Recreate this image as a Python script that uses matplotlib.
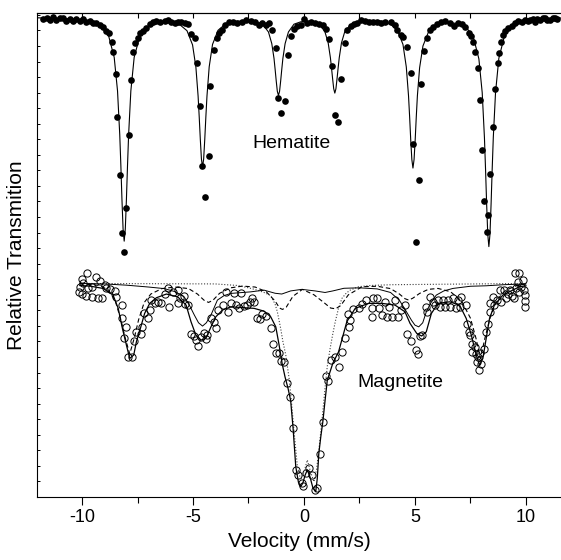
import matplotlib
matplotlib.use('Agg')
import matplotlib.pyplot as plt

plt.rcParams['font.family'] = ['Liberation Sans', 'DejaVu Sans']
plt.rcParams['axes.unicode_minus'] = False

# Hematite spectrum: measured points (velocity mm/s, relative transmission a.u.)
hem_pts = [(-11.75, 30.75), (-11.6, 30.82), (-11.45, 30.7), (-11.3, 30.85), (-11.15, 30.65),
           (-11.0, 30.78), (-10.85, 30.82), (-10.7, 30.62), (-10.55, 30.72), (-10.4, 30.58),
           (-10.25, 30.76), (-10.1, 30.62), (-9.95, 30.72), (-9.8, 30.56), (-9.65, 30.62),
           (-9.5, 30.5), (-9.35, 30.47), (-9.2, 30.35), (-9.05, 30.25), (-8.93, 29.93),
           (-8.78, 29.82), (-8.67, 29.24), (-8.6, 28.6), (-8.49, 27.18), (-8.42, 24.42),
           (-8.3, 20.71), (-8.19, 16.95), (-8.1, 15.75), (-8.0, 18.57), (-7.89, 23.25),
           (-7.78, 26.78), (-7.7, 28.64), (-7.6, 29.22), (-7.47, 29.54), (-7.37, 29.82),
           (-7.25, 29.93), (-7.1, 30.18), (-6.95, 30.42), (-6.8, 30.53), (-6.65, 30.61),
           (-6.47, 30.57), (-6.28, 30.61), (-6.13, 30.68), (-5.98, 30.57), (-5.83, 30.46),
           (-5.68, 30.57), (-5.53, 30.51), (-5.35, 30.46), (-5.23, 30.4), (-5.11, 29.76),
           (-4.93, 29.5), (-4.82, 27.89), (-4.7, 25.17), (-4.58, 21.25), (-4.45, 19.26),
           (-4.3, 21.93), (-4.22, 26.43), (-4.04, 28.75), (-3.94, 29.5), (-3.82, 29.82),
           (-3.7, 30.03), (-3.55, 30.35), (-3.37, 30.53), (-3.19, 30.53), (-3.0, 30.46),
           (-2.8, 30.57), (-2.59, 30.68), (-2.4, 30.61), (-2.2, 30.53), (-2.02, 30.35),
           (-1.87, 30.46), (-1.72, 30.35), (-1.57, 30.46), (-1.42, 30.03), (-1.27, 28.9),
           (-1.15, 25.64), (-1.02, 24.68), (-0.87, 25.43), (-0.72, 28.43), (-0.6, 29.67),
           (-0.45, 30.1), (-0.3, 30.31), (-0.15, 30.35), (0.0, 30.74), (0.15, 30.46),
           (0.3, 30.57), (0.49, 30.46), (0.67, 30.4), (0.85, 30.35), (1.0, 30.1),
           (1.12, 29.43), (1.27, 27.68), (1.39, 24.57), (1.53, 24.1), (1.68, 26.86),
           (1.83, 29.18), (1.95, 30.03), (2.1, 30.31), (2.25, 30.4), (2.4, 30.46),
           (2.55, 30.68), (2.74, 30.61), (2.92, 30.57), (3.11, 30.57), (3.3, 30.53),
           (3.49, 30.46), (3.67, 30.57), (3.9, 30.57), (4.08, 30.35), (4.2, 30.03),
           (4.35, 29.71), (4.46, 29.6), (4.64, 28.92), (4.8, 27.25), (4.91, 22.69),
           (5.05, 16.37), (5.17, 20.39), (5.29, 26.56), (5.42, 28.68), (5.54, 29.5),
           (5.66, 30.03), (5.81, 30.25), (5.99, 30.4), (6.17, 30.53), (6.37, 30.61),
           (6.56, 30.46), (6.74, 30.31), (6.92, 30.46), (7.11, 30.4), (7.27, 30.25),
           (7.42, 29.82), (7.52, 29.67), (7.61, 29.28), (7.72, 28.64), (7.83, 27.57),
           (7.94, 25.5), (8.01, 22.32), (8.13, 19.0), (8.24, 17.03), (8.31, 18.1),
           (8.39, 20.76), (8.51, 23.76), (8.62, 26.24), (8.73, 27.89), (8.79, 28.53),
           (8.87, 29.28), (8.96, 29.71), (9.06, 29.93), (9.21, 30.14), (9.36, 30.31),
           (9.51, 30.46), (9.66, 30.61), (9.81, 30.53), (9.96, 30.68), (10.08, 30.6),
           (10.19, 30.68), (10.3, 30.75), (10.41, 30.57), (10.52, 30.72), (10.64, 30.68),
           (10.75, 30.8), (10.86, 30.78), (10.97, 30.7), (11.09, 30.68), (11.2, 30.82),
           (11.31, 30.78), (11.42, 30.72)]

# Hematite fitted curve
hem_fit = [(-12.0, 30.81), (-10.6, 30.75), (-9.6, 30.57), (-9.1, 30.24), (-8.8, 29.64),
           (-8.55, 28.27), (-8.4, 26.11), (-8.3, 23.3), (-8.25, 21.32), (-8.2, 19.11),
           (-8.15, 17.23), (-8.1, 16.45), (-8.05, 17.23), (-8.0, 19.11), (-7.95, 21.32),
           (-7.9, 23.3), (-7.8, 26.11), (-7.65, 28.27), (-7.4, 29.62), (-7.1, 30.19),
           (-6.6, 30.47), (-6.3, 30.52), (-6.07, 30.52), (-5.57, 30.34), (-5.27, 29.98),
           (-5.02, 29.07), (-4.87, 27.65), (-4.77, 25.78), (-4.72, 24.45), (-4.67, 22.99),
           (-4.62, 21.73), (-4.57, 21.22), (-4.52, 21.73), (-4.47, 22.99), (-4.42, 24.45),
           (-4.37, 25.78), (-4.27, 27.66), (-4.12, 29.1), (-3.87, 30.01), (-3.57, 30.37),
           (-3.07, 30.58), (-2.5, 30.63), (-2.15, 30.55), (-1.85, 30.37), (-1.6, 29.9),
           (-1.45, 29.15), (-1.35, 28.2), (-1.3, 27.5), (-1.25, 26.75), (-1.2, 26.08),
           (-1.15, 25.82), (-1.1, 26.08), (-1.05, 26.75), (-1.0, 27.5), (-0.95, 28.2),
           (-0.85, 29.15), (-0.7, 29.9), (-0.45, 30.4), (-0.15, 30.55), (0.12, 30.59),
           (0.39, 30.56), (0.69, 30.39), (0.94, 29.93), (1.09, 29.2), (1.19, 28.25),
           (1.24, 27.6), (1.29, 26.9), (1.34, 26.25), (1.39, 25.97), (1.44, 26.25),
           (1.49, 26.9), (1.54, 27.6), (1.59, 28.25), (1.69, 29.2), (1.84, 29.93),
           (2.09, 30.35), (2.39, 30.57), (2.9, 30.65), (3.41, 30.62), (3.91, 30.38),
           (4.21, 30.0), (4.46, 29.1), (4.61, 27.65), (4.71, 25.8), (4.76, 24.45),
           (4.81, 22.95), (4.86, 21.7), (4.91, 21.15), (4.96, 21.7), (5.01, 22.95),
           (5.06, 24.45), (5.11, 25.8), (5.21, 27.6), (5.36, 29.0), (5.61, 29.9),
           (5.91, 30.33), (6.41, 30.5), (6.83, 30.46), (7.33, 30.16), (7.63, 29.58),
           (7.88, 28.17), (8.03, 26.0), (8.13, 23.12), (8.18, 21.09), (8.23, 18.83),
           (8.28, 16.9), (8.33, 16.1), (8.38, 16.9), (8.43, 18.83), (8.48, 21.09),
           (8.53, 23.12), (8.63, 26.0), (8.78, 28.21), (9.03, 29.63), (9.33, 30.23),
           (9.83, 30.57), (10.33, 30.7), (11.6, 30.8)]

# Magnetite spectrum: measured points
mag_pts = [(-10.13, 13.19), (-10.1, 13.52), (-10.02, 14.01), (-10.02, 13.03), (-9.95, 13.73),
           (-9.83, 12.94), (-9.77, 14.41), (-9.74, 13.41), (-9.57, 13.52), (-9.53, 12.87),
           (-9.38, 14.16), (-9.27, 12.81), (-9.17, 13.88), (-9.08, 12.81), (-8.97, 13.62),
           (-8.9, 13.41), (-8.72, 13.37), (-8.53, 13.24), (-8.45, 12.87), (-8.22, 12.34),
           (-8.18, 11.48), (-8.12, 10.2), (-8.0, 10.94), (-7.92, 9.02), (-7.73, 9.02),
           (-7.65, 10.03), (-7.55, 10.62), (-7.33, 10.46), (-7.28, 10.94), (-7.22, 11.8),
           (-7.03, 11.48), (-6.95, 12.02), (-6.88, 12.66), (-6.73, 12.45), (-6.58, 12.55),
           (-6.43, 12.45), (-6.28, 13.03), (-6.14, 13.41), (-6.07, 12.23), (-5.92, 13.19),
           (-5.69, 13.3), (-5.69, 12.45), (-5.57, 12.77), (-5.42, 12.94), (-5.36, 12.38),
           (-5.21, 12.34), (-5.09, 10.48), (-4.97, 10.37), (-4.87, 10.09), (-4.76, 9.72),
           (-4.64, 10.3), (-4.49, 10.52), (-4.42, 10.13), (-4.35, 10.41), (-4.19, 11.48),
           (-4.04, 11.27), (-3.97, 10.84), (-3.87, 12.02), (-3.67, 12.34), (-3.52, 13.16),
           (-3.42, 11.87), (-3.29, 12.45), (-3.15, 13.09), (-3.07, 12.34), (-2.92, 12.13),
           (-2.82, 13.09), (-2.7, 12.29), (-2.55, 12.34), (-2.43, 12.51), (-2.32, 12.81),
           (-2.25, 12.55), (-2.1, 11.52), (-1.98, 11.44), (-1.87, 11.74), (-1.72, 11.65),
           (-1.5, 10.88), (-1.38, 9.83), (-1.27, 9.24), (-1.12, 9.24), (-1.05, 8.74),
           (-0.9, 8.7), (-0.75, 7.31), (-0.64, 6.45), (-0.49, 4.41), (-0.37, 1.74),
           (-0.27, 1.41), (-0.1, 0.88), (-0.03, 0.71), (0.1, 1.52), (0.22, 1.88),
           (0.37, 1.41), (0.48, 0.45), (0.6, 0.56), (0.73, 2.74), (0.85, 4.8),
           (0.98, 7.78), (1.09, 7.46), (1.23, 8.8), (1.41, 9.02), (1.56, 8.37),
           (1.71, 9.34), (1.83, 10.24), (1.98, 11.74), (2.01, 10.94), (2.08, 11.38),
           (2.23, 12.08), (2.46, 12.13), (2.61, 12.38), (2.79, 12.66), (3.06, 12.13),
           (3.06, 11.59), (3.13, 12.77), (3.28, 12.77), (3.38, 12.17), (3.51, 11.7),
           (3.63, 12.51), (3.73, 11.59), (3.83, 12.23), (3.96, 11.59), (4.08, 12.66),
           (4.22, 11.59), (4.37, 12.02), (4.53, 12.34), (4.63, 10.46), (4.82, 10.03),
           (5.03, 9.45), (5.15, 9.17), (5.23, 10.37), (5.33, 10.41), (5.48, 12.23),
           (5.54, 11.91), (5.66, 12.87), (5.81, 12.55), (5.89, 12.34), (6.04, 12.66),
           (6.11, 12.23), (6.26, 12.66), (6.34, 12.23), (6.49, 12.66), (6.59, 12.23),
           (6.71, 12.77), (6.83, 12.17), (6.94, 12.66), (7.04, 12.23), (7.09, 12.87),
           (7.28, 12.34), (7.34, 11.1), (7.43, 10.58), (7.49, 10.41), (7.58, 9.81),
           (7.58, 9.34), (7.69, 9.66), (7.73, 9.17), (7.83, 9.02), (7.79, 8.7),
           (7.99, 8.53), (7.88, 8.16), (7.94, 9.24), (8.13, 9.51), (8.21, 10.58),
           (8.28, 11.1), (8.36, 11.91), (8.39, 12.45), (8.51, 12.87), (8.58, 12.34),
           (8.69, 12.66), (8.81, 13.3), (8.88, 12.55), (9.03, 13.3), (9.08, 12.81),
           (9.18, 13.03), (9.29, 13.3), (9.38, 12.94), (9.48, 12.77), (9.53, 14.38),
           (9.56, 13.41), (9.63, 13.84), (9.68, 13.19), (9.71, 14.38), (9.78, 13.52),
           (9.86, 13.95), (9.93, 13.3), (9.98, 12.98), (9.98, 12.6), (9.98, 12.23)]

# Magnetite total fit
mag_fit = [(-10.1, 13.6), (-9.6, 13.55), (-9.05, 13.41), (-8.6, 12.98), (-8.37, 12.13),
           (-8.18, 10.84), (-8.0, 9.77), (-7.85, 8.91), (-7.67, 9.13), (-7.55, 9.98),
           (-7.37, 10.84), (-7.18, 11.8), (-6.95, 12.45), (-6.65, 12.81), (-6.2, 13.05),
           (-5.69, 12.87), (-5.31, 12.34), (-5.09, 11.27), (-4.87, 10.41), (-4.64, 10.09),
           (-4.42, 10.2), (-4.19, 10.94), (-3.97, 11.59), (-3.67, 12.02), (-3.29, 12.23),
           (-2.7, 12.17), (-2.25, 12.13), (-1.8, 11.95), (-1.5, 11.59), (-1.27, 10.94),
           (-1.12, 9.77), (-0.98, 8.55), (-0.85, 7.7), (-0.72, 7.0), (-0.6, 6.2),
           (-0.49, 4.41), (-0.37, 1.95), (-0.25, 0.95), (-0.15, 0.66), (-0.05, 0.9),
           (0.05, 1.4), (0.15, 1.74), (0.27, 1.3), (0.4, 0.6), (0.53, 0.34), (0.6, 1.2),
           (0.67, 2.81), (0.76, 3.9), (0.85, 4.84), (0.95, 6.2), (1.05, 7.5), (1.3, 8.6),
           (1.56, 9.34), (1.93, 11.27), (2.31, 12.13), (2.91, 12.45), (3.51, 12.45),
           (4.1, 12.34), (4.55, 11.91), (4.78, 11.16), (5.08, 10.52), (5.3, 10.35),
           (5.51, 10.62), (5.74, 11.8), (6.04, 12.45), (6.56, 12.55), (7.01, 12.34),
           (7.31, 11.48), (7.54, 10.41), (7.76, 9.13), (7.91, 8.48), (8.06, 8.91),
           (8.21, 10.2), (8.36, 11.48), (8.58, 12.34), (8.96, 12.98), (9.71, 13.52),
           (10.0, 13.58)]

# Magnetite subspectra
sub_solid = [(-10.1, 13.73), (-9.0, 13.7), (-8.0, 13.62), (-7.0, 13.5), (-6.3, 13.4),
             (-5.8, 13.2), (-5.4, 12.87), (-5.15, 12.3), (-4.94, 11.7), (-4.75, 11.2),
             (-4.57, 10.99), (-4.4, 11.2), (-4.19, 11.7), (-3.9, 12.66), (-3.6, 12.95),
             (-3.29, 13.09), (-2.4, 13.19), (-1.8, 13.3), (-1.3, 13.1), (-1.0, 13.05),
             (-0.6, 13.25), (-0.1, 13.35), (0.5, 13.25), (0.95, 13.15), (1.3, 13.25),
             (1.8, 13.42), (2.5, 13.45), (3.3, 13.38), (3.9, 13.15), (4.3, 12.65),
             (4.6, 11.95), (4.85, 11.35), (5.0, 11.05), (5.17, 10.94), (5.35, 11.2),
             (5.51, 11.9), (5.7, 12.45), (5.96, 12.98), (6.3, 13.25), (6.71, 13.41),
             (7.5, 13.55), (8.21, 13.58), (9.0, 13.65), (10.0, 13.7)]

sub_dashed = [(-10.1, 13.72), (-9.2, 13.6), (-8.8, 13.3), (-8.5, 12.6), (-8.25, 11.4),
              (-8.05, 10.2), (-7.85, 9.2), (-7.65, 10.2), (-7.45, 11.4), (-7.2, 12.5),
              (-6.9, 13.05), (-6.4, 13.4), (-5.8, 13.5), (-5.2, 13.4), (-4.8, 13.05),
              (-4.5, 12.65), (-4.3, 12.51), (-4.1, 12.65), (-3.8, 13.1), (-3.3, 13.45),
              (-2.77, 13.56), (-2.2, 13.5), (-1.7, 13.2), (-1.3, 12.6), (-1.1, 12.15),
              (-0.97, 12.06), (-0.8, 12.2), (-0.5, 12.9), (-0.07, 13.35), (0.45, 13.0),
              (0.9, 12.5), (1.2, 12.15), (1.42, 12.1), (1.65, 12.3), (2.0, 13.0),
              (2.62, 13.52), (3.3, 13.55), (3.9, 13.4), (4.3, 13.05), (4.55, 12.75),
              (4.72, 12.66), (4.9, 12.78), (5.21, 13.09), (5.6, 13.35), (6.04, 13.41),
              (6.6, 13.2), (7.1, 12.6), (7.5, 11.5), (7.75, 10.2), (7.95, 8.9),
              (8.15, 10.2), (8.4, 11.6), (8.7, 12.7), (9.1, 13.3), (9.6, 13.6), (10.0, 13.7)]

sub_dotted = [(-10.1, 13.73), (-4.0, 13.7), (-3.0, 13.6), (-2.5, 13.45), (-2.1, 13.3),
              (-1.8, 13.15), (-1.5, 12.95), (-1.3, 12.4), (-1.2, 11.91), (-1.05, 10.84),
              (-0.95, 10.0), (-0.82, 9.13), (-0.67, 7.63), (-0.55, 5.9), (-0.42, 3.8),
              (-0.3, 2.0), (-0.15, 1.1), (0.0, 1.6), (0.15, 2.38), (0.3, 1.6), (0.45, 0.98),
              (0.57, 1.8), (0.67, 3.02), (0.8, 4.74), (0.94, 6.88), (1.05, 8.4),
              (1.18, 9.56), (1.3, 10.5), (1.41, 11.27), (1.55, 12.1), (1.71, 12.77),
              (1.9, 13.1), (2.08, 13.3), (2.46, 13.52), (3.0, 13.6), (3.96, 13.65),
              (10.0, 13.73)]

x_major = [-10, -5, 0, 5, 10]
x_minor = [-7.5, -2.5, 2.5, 7.5]


def split(pts):
    return [p[0] for p in pts], [p[1] for p in pts]


fig = plt.figure(figsize=(5.61, 5.60), dpi=100)
ax = fig.add_axes([37.4 / 561, 63 / 560, (561 - 37.4) / 561, 483.7 / 560])

# hematite
hv, ht = split(hem_pts)
ax.plot(hv, ht, 'o', color='black', markersize=4.8, markeredgewidth=0)
fv, ft = split(hem_fit)
ax.plot(fv, ft, '-', color='black', lw=0.8)

# magnetite
mv, mt = split(mag_pts)
ax.plot(mv, mt, 'o', markerfacecolor='none', markeredgecolor='black',
        markersize=5.2, markeredgewidth=0.7)
sv, st = split(sub_dotted)
ax.plot(sv, st, color='0.25', lw=0.8, linestyle=(0, (1, 1.6)))
sv, st = split(sub_dashed)
ax.plot(sv, st, color='black', lw=0.8, linestyle=(0, (4, 2.5)))
sv, st = split(sub_solid)
ax.plot(sv, st, color='black', lw=0.7)
fv, ft = split(mag_fit)
ax.plot(fv, ft, color='black', lw=0.9)

ax.text(-2.34, 22.75, 'Hematite', fontsize=14, va='center', ha='left')
ax.text(2.4, 7.36, 'Magnetite', fontsize=14, va='center', ha='left')

ax.set_xlim(-12.01, 11.58)
ax.set_ylim(0, 31.1)
ax.spines['right'].set_visible(False)
for s in ax.spines.values():
    s.set_linewidth(0.8)

ax.set_xticks(x_major)
ax.set_xticks(x_minor, minor=True)
ax.set_xticklabels([str(v) for v in x_major])
ax.tick_params(axis='x', which='major', direction='out', length=6, width=0.8,
               labelsize=13, pad=3, top=False)
ax.tick_params(axis='x', which='minor', direction='out', length=4, width=0.8, top=False)

top = ax.secondary_xaxis('top')
top.set_xticks(x_major + x_minor)
top.tick_params(direction='in', length=3.5, width=0.8, labeltop=False)
top.spines['top'].set_linewidth(0.8)

ax.set_yticks(range(0, 32))
ax.set_yticklabels([])
ax.tick_params(axis='y', direction='in', length=2, width=0.7, right=False)

ax.set_xlabel('Velocity (mm/s)', fontsize=15, labelpad=4)
ax.set_ylabel('Relative Transmition', fontsize=15, labelpad=5)

fig.savefig('out.png', dpi=100)
